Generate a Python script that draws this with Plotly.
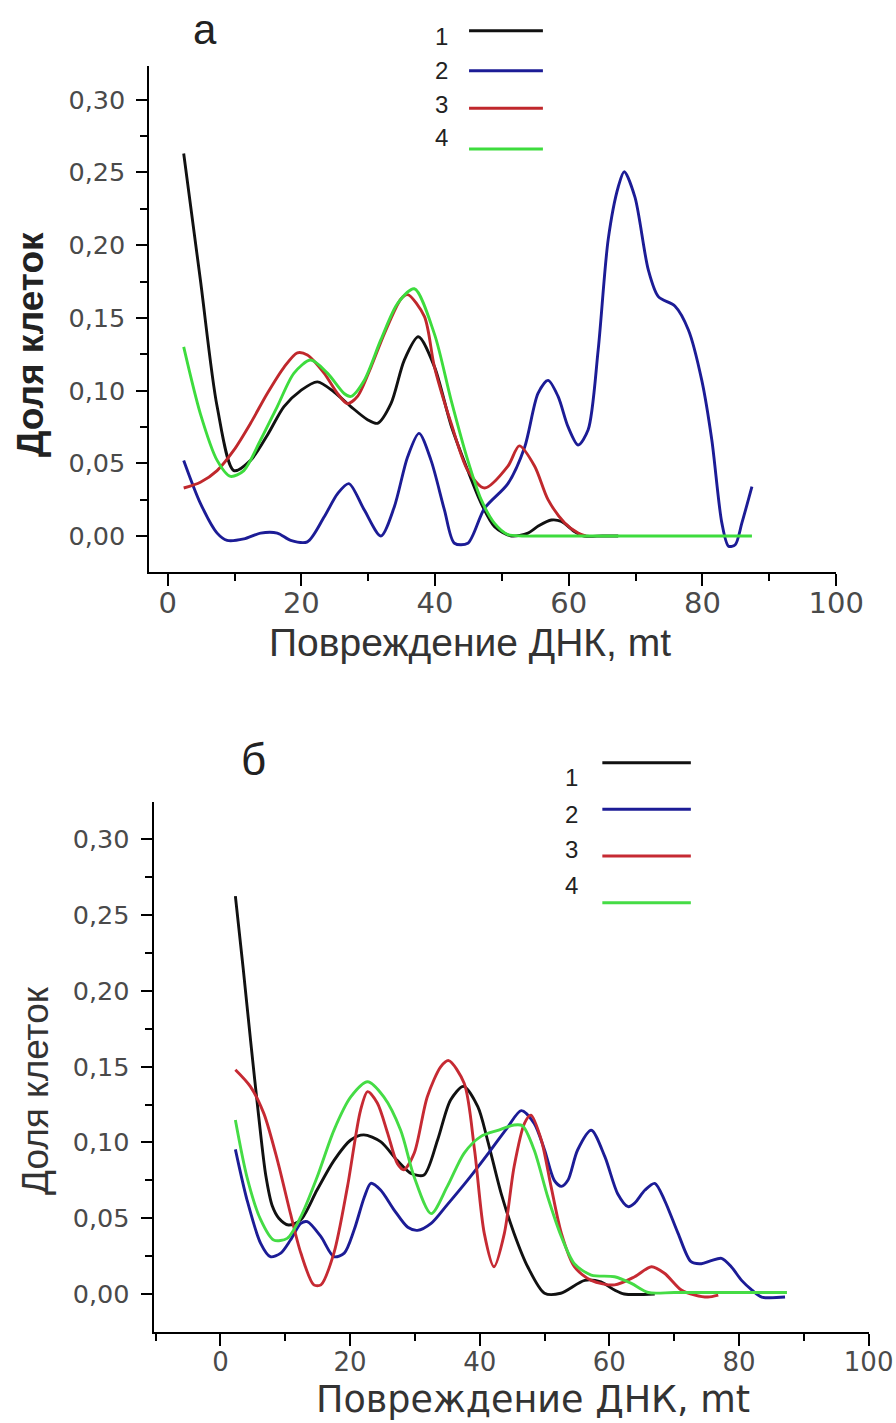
import plotly.graph_objects as go

# reference picture size (positions below are in these pixels)
W, H = 896, 1423
# css width of the figure; the photographed page is horizontally compressed (~0.967)
W_CSS = 926

# ---------------- data: panel "а" ----------------
a_x1 = [2.4, 4.9, 7.4, 9.9, 12.4, 15.0, 17.4, 19.9, 22.4, 24.9, 27.4, 29.9, 31.4, 33.4, 35.4, 37.5, 39.9,
        42.4, 44.9, 46.9, 48.9, 51.4, 53.9, 55.5, 57.4, 58.9, 60.9, 62.3, 65.0, 67.4]
a_y1 = [0.263, 0.176, 0.089, 0.045, 0.052, 0.070, 0.089, 0.100, 0.106, 0.099, 0.089, 0.080, 0.0775, 0.091,
        0.121, 0.137, 0.1165, 0.076, 0.045, 0.0225, 0.0064, 0.0, 0.002, 0.007, 0.011, 0.010, 0.003, 0.0, 0.0, 0.0]

a_x2 = [2.4, 4.9, 7.4, 8.9, 11.4, 13.9, 16.4, 18.4, 20.9, 23.4, 25.4, 27.1, 29.4, 31.9, 33.9, 35.9, 37.6,
        39.4, 41.4, 42.9, 44.9, 47.4, 50.9, 53.4, 55.4, 56.9, 58.4, 59.9, 61.4, 62.9, 64.4, 65.9, 67.4,
        68.3, 69.9, 71.9, 73.4, 75.9, 77.9, 79.9, 81.4, 82.9, 83.9, 84.9, 85.9, 87.4]
a_y2 = [0.052, 0.0225, 0.002, -0.003, -0.002, 0.002, 0.002, -0.003, -0.004, 0.013, 0.029, 0.036, 0.018,
        0.0, 0.020, 0.0545, 0.0706, 0.052, 0.018, -0.005, -0.005, 0.019, 0.036, 0.061, 0.098, 0.107, 0.096,
        0.075, 0.0626, 0.073, 0.128, 0.204, 0.240, 0.2505, 0.233, 0.183, 0.1646, 0.158, 0.1417, 0.107,
        0.066, 0.009, -0.007, -0.006, 0.009, 0.034]

a_x3 = [2.4, 4.9, 7.4, 9.9, 12.4, 14.9, 17.4, 19.4, 20.9, 23.4, 25.4, 26.9, 28.4, 30.4, 32.4, 34.9, 35.9,
        38.4, 39.9, 42.4, 44.9, 47.4, 50.9, 52.6, 54.9, 56.9, 59.4, 61.4, 62.5]
a_y3 = [0.033, 0.037, 0.045, 0.059, 0.0775, 0.098, 0.116, 0.126, 0.1245, 0.112, 0.098, 0.091, 0.096, 0.116,
        0.139, 0.163, 0.166, 0.151, 0.1165, 0.0775, 0.045, 0.033, 0.048, 0.062, 0.048, 0.025, 0.009, 0.002, 0.0]

a_x4 = [2.4, 4.9, 7.4, 9.4, 11.4, 13.9, 16.4, 18.9, 21.4, 23.9, 26.4, 27.4, 29.4, 31.9, 34.4, 36.9, 39.9,
        42.4, 44.9, 46.9, 48.9, 50.9, 53.0, 56.0, 60.0, 70.0, 80.0, 87.4]
a_y4 = [0.130, 0.084, 0.052, 0.041, 0.045, 0.066, 0.089, 0.112, 0.121, 0.112, 0.098, 0.096, 0.107, 0.135,
        0.160, 0.170, 0.139, 0.0935, 0.052, 0.025, 0.0087, 0.001, 0.0, 0.0, 0.0, 0.0, 0.0, 0.0]

# ---------------- data: panel "б" ----------------
b_x1 = [2.3, 3.5, 4.7, 5.9, 7.0, 8.0, 9.0, 10.5, 12.4, 14.9, 17.5, 20.1, 22.1, 24.7, 27.3, 29.4, 31.4, 33.5,
        35.5, 37.5, 39.7, 41.2, 43.3, 45.3, 47.4, 50.0, 52.5, 56.2, 58.7, 60.8, 62.3, 67.0]
b_y1 = [0.2625, 0.215, 0.165, 0.117, 0.078, 0.058, 0.050, 0.0455, 0.049, 0.0686, 0.088, 0.1016, 0.105, 0.1005,
        0.088, 0.0796, 0.0785, 0.1016, 0.128, 0.137, 0.1236, 0.1016, 0.0664, 0.040, 0.018, 0.0005, 0.0005,
        0.009, 0.008, 0.0026, 0.0, 0.0]

b_x2 = [2.3, 4.1, 6.2, 7.7, 9.3, 10.8, 12.4, 13.4, 15.5, 17.5, 19.1, 20.6, 22.2, 23.2, 24.7, 26.8, 28.9,
        30.4, 32.5, 35.0, 38.1, 41.7, 44.3, 46.4, 48.4, 50.0, 51.5, 52.6, 53.6, 55.1, 57.2, 59.3, 61.3,
        62.9, 63.9, 65.5, 67.0, 68.5, 70.6, 72.6, 74.2, 75.7, 77.3, 78.8, 80.4, 82.0, 83.5, 87.1]
b_y2 = [0.0954, 0.062, 0.0334, 0.0246, 0.027, 0.0356, 0.0466, 0.0477, 0.0378, 0.0246, 0.027, 0.042, 0.064,
        0.073, 0.0686, 0.0554, 0.044, 0.042, 0.0466, 0.059, 0.075, 0.095, 0.110, 0.121, 0.1126, 0.095,
        0.075, 0.071, 0.075, 0.095, 0.108, 0.0906, 0.066, 0.0576, 0.060, 0.0686, 0.073, 0.062, 0.040,
        0.0213, 0.020, 0.022, 0.0235, 0.018, 0.009, 0.0026, -0.002, -0.002]

b_x3 = [2.3, 4.6, 6.7, 8.8, 10.8, 12.4, 14.4, 15.5, 17.5, 19.6, 21.6, 22.7, 24.2, 25.8, 27.3, 28.3, 29.9,
        31.9, 34.0, 35.2, 37.6, 39.2, 40.7, 42.2, 43.8, 45.3, 46.9, 47.9, 49.5, 51.0, 52.6, 54.6, 57.2,
        60.8, 63.9, 66.5, 68.5, 71.1, 73.2, 75.2, 76.8]
b_y3 = [0.148, 0.137, 0.119, 0.088, 0.053, 0.027, 0.006, 0.006, 0.027, 0.071, 0.121, 0.1335, 0.126, 0.106,
        0.086, 0.082, 0.093, 0.130, 0.150, 0.154, 0.139, 0.095, 0.040, 0.018, 0.040, 0.084, 0.1126, 0.118,
        0.1016, 0.071, 0.040, 0.018, 0.009, 0.006, 0.0114, 0.018, 0.0137, 0.0026, -0.0007, -0.002, -0.0007]

b_x4 = [2.3, 4.1, 6.2, 8.2, 10.3, 12.4, 14.9, 17.5, 20.1, 22.7, 25.2, 27.8, 29.9, 32.5, 35.0, 37.6, 40.2,
        42.8, 45.3, 46.6, 48.4, 50.5, 52.6, 54.6, 57.2, 60.8, 63.4, 66.0, 70.0, 80.0, 87.4]
b_y4 = [0.1148, 0.077, 0.049, 0.0356, 0.0367, 0.051, 0.077, 0.108, 0.130, 0.140, 0.130, 0.108, 0.077,
        0.053, 0.071, 0.093, 0.104, 0.108, 0.1115, 0.111, 0.095, 0.064, 0.0378, 0.020, 0.0125, 0.0114,
        0.007, 0.001, 0.001, 0.001, 0.001]

series_names = ["1", "2", "3", "4"]
y_tickvals = [0.0, 0.05, 0.10, 0.15, 0.20, 0.25, 0.30]
y_ticklabels = ["0,00", "0,05", "0,10", "0,15", "0,20", "0,25", "0,30"]
x_tickvals = [0, 20, 40, 60, 80, 100]
x_ticklabels = ["0", "20", "40", "60", "80", "100"]
panel_titles = ["а", "б"]
x_title = "Повреждение ДНК, mt"
y_title = "Доля клеток"

colors_a = ["#111111", "#1c1c96", "#c0282c", "#3ddc3d"]
colors_b = ["#111111", "#1c1c96", "#c62a33", "#45dc45"]

# ---------------- figure ----------------
def px_x(p):
    return p / W

def px_y(p):
    return 1 - p / H

fig = go.Figure()

panel_a = [(a_x1, a_y1), (a_x2, a_y2), (a_x3, a_y3), (a_x4, a_y4)]
panel_b = [(b_x1, b_y1), (b_x2, b_y2), (b_x3, b_y3), (b_x4, b_y4)]

for (xs, ys), c, n in zip(panel_a, colors_a, series_names):
    fig.add_trace(go.Scatter(x=xs, y=ys, mode="lines", name=n, showlegend=False,
                             line=dict(color=c, width=2.9, shape="spline", smoothing=0.8),
                             xaxis="x", yaxis="y"))
for (xs, ys), c, n in zip(panel_b, colors_b, series_names):
    fig.add_trace(go.Scatter(x=xs, y=ys, mode="lines", name=n, showlegend=False,
                             line=dict(color=c, width=2.9, shape="spline", smoothing=0.8),
                             xaxis="x2", yaxis="y2"))

TICKFAM = "DejaVu Sans, Liberation Sans, sans-serif"

def xaxis_cfg(domain, rng, anchor, fsize, standoff):
    return dict(domain=domain, range=rng, anchor=anchor, showline=True, linecolor="black", linewidth=2,
                showgrid=False, zeroline=False, ticks="outside", ticklen=12, tickwidth=2, tickcolor="black",
                tickvals=x_tickvals, ticktext=x_ticklabels,
                tickfont=dict(family=TICKFAM, size=fsize, color="#4a4a4a"), ticklabelstandoff=standoff,
                minor=dict(dtick=10, tick0=0, ticks="outside", ticklen=7, tickwidth=2, tickcolor="black"),
                fixedrange=True)

def yaxis_cfg(domain, rng, anchor):
    return dict(domain=domain, range=rng, anchor=anchor, showline=True, linecolor="black", linewidth=2,
                showgrid=False, zeroline=False, ticks="outside", ticklen=11, tickwidth=2, tickcolor="black",
                tickvals=y_tickvals, ticktext=y_ticklabels,
                tickfont=dict(family=TICKFAM, size=25.5, color="#4a4a4a"), ticklabelstandoff=6,
                minor=dict(dtick=0.025, tick0=0, ticks="outside", ticklen=7, tickwidth=2, tickcolor="black"),
                fixedrange=True)

fig.update_layout(
    width=W_CSS, height=H,
    autosize=False,
    margin=dict(l=0, r=0, t=0, b=0, pad=0),
    paper_bgcolor="white", plot_bgcolor="white",
    showlegend=False,
    xaxis=xaxis_cfg([px_x(149), px_x(834.3)], [-2.74, 100], "y", 29, -8),
    yaxis=yaxis_cfg([px_y(571.7), px_y(66)], [-0.02455, 0.3232], "x"),
    xaxis2=xaxis_cfg([px_x(153.3), px_x(866.7)], [-10.31, 100], "y2", 26, -6),
    yaxis2=yaxis_cfg([px_y(1331.7), px_y(801.7)], [-0.02487, 0.3248], "x2"),
)

ann = []
shapes = []
title_font = dict(family="Liberation Sans, Arial, sans-serif", size=42, color="#222222")
ann.append(dict(x=px_x(205), y=px_y(29), xref="paper", yref="paper", text=panel_titles[0],
                showarrow=False, font=title_font, xanchor="center", yanchor="middle"))
ann.append(dict(x=px_x(253), y=px_y(759), xref="paper", yref="paper", text=panel_titles[1],
                showarrow=False, font=dict(family="Liberation Sans, Arial, sans-serif", size=44, color="#222222"),
                xanchor="center", yanchor="middle"))

# axis titles
ann.append(dict(x=px_x(469), y=px_y(642), xref="paper", yref="paper", text=x_title, showarrow=False,
                font=dict(family="Liberation Sans, Arial, sans-serif", size=39, color="#333333"),
                xanchor="center", yanchor="middle"))
ann.append(dict(x=px_x(532), y=px_y(1399), xref="paper", yref="paper", text=x_title, showarrow=False,
                font=dict(family="DejaVu Sans, Liberation Sans, sans-serif", size=36.5, color="#333333"),
                xanchor="center", yanchor="middle"))
ann.append(dict(x=px_x(31), y=px_y(345), xref="paper", yref="paper", text="<b>" + y_title + "</b>",
                showarrow=False, textangle=-90,
                font=dict(family="Liberation Sans, Arial, sans-serif", size=37, color="#222222"),
                xanchor="center", yanchor="middle"))
ann.append(dict(x=px_x(35), y=px_y(1091), xref="paper", yref="paper", text=y_title,
                showarrow=False, textangle=-90,
                font=dict(family="Liberation Sans, Arial, sans-serif", size=37, color="#333333"),
                xanchor="center", yanchor="middle"))

# legends (label position, line position)
leg_font = dict(family="Liberation Sans, Arial, sans-serif", size=24, color="#222222")
leg_a_lab_y = [36.7, 70.7, 104, 137.3]
leg_a_line_y = [30.7, 70.7, 108.3, 149]
for n, ly, sy, c in zip(series_names, leg_a_lab_y, leg_a_line_y, colors_a):
    ann.append(dict(x=px_x(441), y=px_y(ly), xref="paper", yref="paper", text=n, showarrow=False,
                    font=leg_font, xanchor="center", yanchor="middle"))
    shapes.append(dict(type="line", xref="paper", yref="paper", x0=px_x(468), x1=px_x(541.7),
                       y0=px_y(sy), y1=px_y(sy), line=dict(color=c, width=3)))

leg_b_lab_y = [777.3, 814.3, 849.3, 885]
leg_b_line_y = [762.7, 809.3, 856, 902.7]
for n, ly, sy, c in zip(series_names, leg_b_lab_y, leg_b_line_y, colors_b):
    ann.append(dict(x=px_x(570), y=px_y(ly), xref="paper", yref="paper", text=n, showarrow=False,
                    font=leg_font, xanchor="center", yanchor="middle"))
    shapes.append(dict(type="line", xref="paper", yref="paper", x0=px_x(601), x1=px_x(689.3),
                       y0=px_y(sy), y1=px_y(sy), line=dict(color=c, width=3)))

fig.update_layout(annotations=ann, shapes=shapes)

fig.write_html("out.html", config={"responsive": False, "displayModeBar": False})
